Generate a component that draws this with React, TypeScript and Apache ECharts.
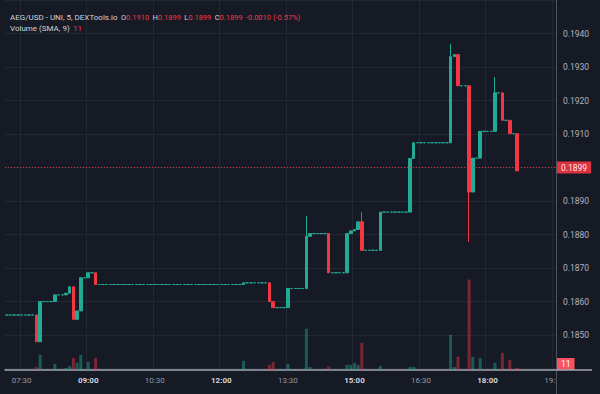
import React, { useEffect, useRef } from "react";
import * as echarts from "echarts";

// 5-minute categories from 07:10 to 19:30
const categories: string[] = [];
for (let m = 7 * 60 + 10; m <= 19 * 60 + 30; m += 5) {
  categories.push(`${String(Math.floor(m / 60)).padStart(2, "0")}:${String(m % 60).padStart(2, "0")}`);
}

const tickLabels = ["07:30", "09:00", "10:30", "12:00", "13:30", "15:00", "16:30", "18:00", "19:30"];
const majorTickLabels = ["09:00", "12:00", "15:00", "18:00"];
const priceTicks = [0.184, 0.185, 0.186, 0.187, 0.188, 0.189, 0.19, 0.191, 0.192, 0.193, 0.194];
// ticks hidden behind the price tags on the axis
const hiddenPriceTicks = [0.184, 0.19];

// one candle per 5 minutes starting at 07:10 (139 bars, last at 18:40)
const opens = [
  0.1856, 0.1856, 0.1856, 0.1856, 0.1856, 0.1856, 0.1856, 0.1856,
  0.1856, 0.1848,
  0.186, 0.186, 0.186,
  0.186,
  0.1862, 0.1862,
  0.1862, 0.18625, 0.18644, 0.18547, 0.18572,
  0.18671, 0.18671, 0.18686, 0.18686,
  0.18651, 0.18651, 0.18651, 0.18651, 0.18651, 0.18651, 0.18651, 0.18651, 0.18651, 0.18651, 0.18651, 0.18651, 0.18651,
  0.18651, 0.18651, 0.18651, 0.18651, 0.18651, 0.18651, 0.18651, 0.18651, 0.18651, 0.18651, 0.18651, 0.18651, 0.18651,
  0.18651, 0.18651, 0.18651, 0.18651, 0.18651, 0.18651, 0.18651, 0.18651, 0.18651, 0.18651, 0.18651, 0.18651, 0.18651,
  0.18651,
  0.18656, 0.18656, 0.18656, 0.18656, 0.18656, 0.18656,
  0.18656, 0.186,
  0.18582, 0.18582, 0.18582,
  0.18582,
  0.18639, 0.18639, 0.18639, 0.18639,
  0.18639, 0.18795,
  0.18803, 0.18803, 0.18803, 0.18803,
  0.18803,
  0.18686, 0.18686, 0.18686, 0.18686,
  0.18686, 0.18803, 0.18811, 0.18815, 0.18838,
  0.18753, 0.18753, 0.18753, 0.18753,
  0.18753,
  0.18867, 0.18867, 0.18867, 0.18867, 0.18867, 0.18867, 0.18867,
  0.18867, 0.19027,
  0.19074, 0.19074, 0.19074, 0.19074, 0.19074, 0.19074, 0.19074, 0.19074, 0.19074,
  0.19074, 0.19331, 0.19337,
  0.19244, 0.19244,
  0.19244, 0.18927, 0.19028, 0.19028,
  0.19108, 0.19108, 0.19108,
  0.19108, 0.19223, 0.19223, 0.19141, 0.19141, 0.19101, 0.19101,
];

const closes = [
  0.1856, 0.1856, 0.1856, 0.1856, 0.1856, 0.1856, 0.1856, 0.1856,
  0.1848, 0.186,
  0.186, 0.186, 0.186,
  0.1862,
  0.1862, 0.1862,
  0.18625, 0.18644, 0.18547, 0.18572, 0.18671,
  0.18671, 0.18686, 0.18686, 0.18651,
  0.18651, 0.18651, 0.18651, 0.18651, 0.18651, 0.18651, 0.18651, 0.18651, 0.18651, 0.18651, 0.18651, 0.18651, 0.18651,
  0.18651, 0.18651, 0.18651, 0.18651, 0.18651, 0.18651, 0.18651, 0.18651, 0.18651, 0.18651, 0.18651, 0.18651, 0.18651,
  0.18651, 0.18651, 0.18651, 0.18651, 0.18651, 0.18651, 0.18651, 0.18651, 0.18651, 0.18651, 0.18651, 0.18651, 0.18651,
  0.18656,
  0.18656, 0.18656, 0.18656, 0.18656, 0.18656, 0.18656,
  0.186, 0.18582,
  0.18582, 0.18582, 0.18582,
  0.18639,
  0.18639, 0.18639, 0.18639, 0.18639,
  0.18795, 0.18803,
  0.18803, 0.18803, 0.18803, 0.18803,
  0.18686,
  0.18686, 0.18686, 0.18686, 0.18686,
  0.18803, 0.18811, 0.18815, 0.18838, 0.18753,
  0.18753, 0.18753, 0.18753, 0.18753,
  0.18867,
  0.18867, 0.18867, 0.18867, 0.18867, 0.18867, 0.18867, 0.18867,
  0.19027, 0.19074,
  0.19074, 0.19074, 0.19074, 0.19074, 0.19074, 0.19074, 0.19074, 0.19074, 0.19074,
  0.19331, 0.19337, 0.19244,
  0.19244, 0.19244,
  0.18927, 0.19028, 0.19028, 0.19108,
  0.19108, 0.19108, 0.19108,
  0.19223, 0.19223, 0.19141, 0.19141, 0.19101, 0.19101, 0.1899,
];

const upperWickTimes = ["13:55", "15:10", "17:10", "18:10"];
const upperWickValues = [0.18855, 0.18867, 0.19369, 0.1927];
const lowerWickTimes = ["17:35"];
const lowerWickValues = [0.18778];

const volumeTimes = [
  "07:50", "07:55", "08:15", "08:30", "08:35", "08:40", "08:45", "08:50", "09:00", "09:10",
  "12:30", "13:05", "13:10", "13:30", "13:55", "14:00", "14:25", "14:50", "14:55", "15:00",
  "15:05", "15:10", "15:35", "16:15", "16:20", "17:10", "17:15", "17:20", "17:35", "17:40",
  "17:50", "18:10", "18:20", "18:30", "18:40",
];
const volumeValues = [
  16, 83, 33, 11, 22, 66, 39, 83, 44, 66,
  50, 28, 44, 33, 226, 17, 19, 28, 28, 39,
  28, 149, 22, 17, 17, 193, 17, 72, 495, 72,
  66, 39, 94, 55, 11,
];

const lastPrice = 0.1899;
const lastVolume = 11;

const GREEN = "#22ab94";
const RED = "#f23645";
const BG = "#161a25";
const GRID = "#232733";

export default function App() {
  const ref = useRef<HTMLDivElement>(null);

  useEffect(() => {
    document.body.style.margin = "0";
    document.body.style.background = BG;
    const chart = echarts.init(ref.current!, null, { renderer: "svg" });

    const candleData = opens.map((o, i) => {
      const c = closes[i];
      const t = categories[i];
      const ui = upperWickTimes.indexOf(t);
      const li = lowerWickTimes.indexOf(t);
      const hi = ui >= 0 ? Math.max(o, c, upperWickValues[ui]) : Math.max(o, c);
      const lo = li >= 0 ? Math.min(o, c, lowerWickValues[li]) : Math.min(o, c);
      return [o, c, lo, hi];
    });

    const volumeData = categories.map((t, i) => {
      const vi = volumeTimes.indexOf(t);
      if (vi < 0) return "-";
      const up = closes[i] >= opens[i];
      return {
        value: volumeValues[vi],
        itemStyle: { color: up ? "rgba(34,171,148,0.45)" : "rgba(242,54,69,0.45)" },
      };
    });

    const labelInterval = (index: number) => tickLabels.includes(categories[index]);

    const option: any = {
      animation: false,
      backgroundColor: BG,
      textStyle: { fontFamily: "Roboto, 'Noto Sans', sans-serif" },
      grid: [
        { left: 5, right: 44, top: 0, bottom: 25.4 },
        { left: 5, right: 44, top: 279.5, bottom: 24 },
      ],
      xAxis: [
        {
          type: "category",
          gridIndex: 0,
          data: categories,
          boundaryGap: true,
          axisLine: { show: false },
          axisTick: { show: false },
          axisLabel: { show: false },
          splitLine: { show: true, interval: labelInterval, lineStyle: { color: GRID, width: 1 } },
        },
        {
          type: "category",
          gridIndex: 1,
          data: categories,
          boundaryGap: true,
          z: 1,
          axisLine: { show: true, lineStyle: { color: "#a3a6af", width: 1.5 } },
          axisTick: { show: false },
          splitLine: { show: false },
          axisLabel: {
            interval: labelInterval,
            margin: 6,
            formatter: (v: string) => (majorTickLabels.includes(v) ? `{b|${v}}` : `{a|${v}}`),
            rich: {
              a: { color: "#9598a1", fontSize: 8 },
              b: { color: "#d1d4dc", fontSize: 8, fontWeight: "bold" },
            },
          },
        },
      ],
      yAxis: [
        {
          type: "value",
          gridIndex: 0,
          position: "right",
          min: priceTicks[0],
          max: 0.195,
          interval: 0.001,
          axisLine: { show: false },
          axisTick: { show: false },
          splitLine: { show: true, lineStyle: { color: GRID, width: 1 } },
          axisLabel: {
            showMaxLabel: false,
            margin: 7,
            color: "#b2b5be",
            fontSize: 8.5,
            formatter: (v: number) =>
              hiddenPriceTicks.some((h) => Math.abs(h - v) < 1e-7) ? "" : v.toFixed(4),
          },
        },
        {
          type: "value",
          gridIndex: 1,
          min: 0,
          max: 495,
          show: false,
        },
      ],
      series: [
        {
          type: "candlestick",
          xAxisIndex: 0,
          yAxisIndex: 0,
          data: candleData,
          barWidth: 3,
          itemStyle: {
            color: GREEN,
            color0: RED,
            borderColor: GREEN,
            borderColor0: RED,
            borderColorDoji: GREEN,
            borderWidth: 1,
          },
          markLine: {
            silent: true,
            symbol: ["none", "none"],
            data: [{ yAxis: lastPrice }],
            lineStyle: { color: RED, type: [1, 2], width: 1, opacity: 0.9 },
            label: {
              position: "end",
              formatter: lastPrice.toFixed(4),
              color: "#ffffff",
              backgroundColor: RED,
              padding: [2, 4, 1, 4],
              fontSize: 8.5,
              distance: 1,
            },
          },
        },
        {
          type: "bar",
          xAxisIndex: 1,
          yAxisIndex: 1,
          data: volumeData,
          barWidth: 3,
          markLine: {
            silent: true,
            symbol: ["none", "none"],
            data: [{ yAxis: lastVolume }],
            lineStyle: { color: "rgba(0,0,0,0)", width: 0 },
            label: {
              show: true,
              position: "end",
              formatter: String(lastVolume),
              color: "#ffffff",
              backgroundColor: "#f7525f",
              padding: [2, 4, 1, 4],
              fontSize: 8.5,
              distance: 1,
              offset: [0, -4],
            },
          },
        },
      ],
      graphic: [
        {
          type: "rect",
          z: 50,
          shape: { x: 557, y: 372, width: 43, height: 22 },
          style: { fill: BG },
        },
        {
          type: "line",
          z: 60,
          shape: { x1: 556.5, y1: 0, x2: 556.5, y2: 394 },
          style: { stroke: "#50535e", lineWidth: 1 },
        },
        {
          type: "line",
          z: 60,
          shape: { x1: 556, y1: 370, x2: 592, y2: 370 },
          style: { stroke: "#a3a6af", lineWidth: 1.5 },
        },
        {
          type: "text",
          z: 60,
          x: 10,
          y: 11,
          style: {
            text:
              "{t|AEG/USD - UNI, 5, DEXTools.io} {l|O}{v|0.1910} {l|H}{v|0.1899} {l|L}{v|0.1899} {l|C}{v|0.1899} {v|-0.0010 (-0.57%)}",
            rich: {
              t: { fill: "#d1d4dc", fontSize: 8, fontFamily: "Roboto" },
              l: { fill: "#d1d4dc", fontSize: 7.5, fontFamily: "Roboto" },
              v: { fill: RED, fontSize: 7.5, fontFamily: "Roboto" },
            },
          },
        },
        {
          type: "text",
          z: 60,
          x: 10,
          y: 22,
          style: {
            text: "{t|Volume (SMA, 9)} {v|11}",
            rich: {
              t: { fill: "#d1d4dc", fontSize: 8, fontFamily: "Roboto" },
              v: { fill: RED, fontSize: 8, fontFamily: "Roboto" },
            },
          },
        },
      ],
    };

    chart.setOption(option);
    return () => chart.dispose();
  }, []);

  return <div ref={ref} style={{ width: 600, height: 394 }} />;
}
